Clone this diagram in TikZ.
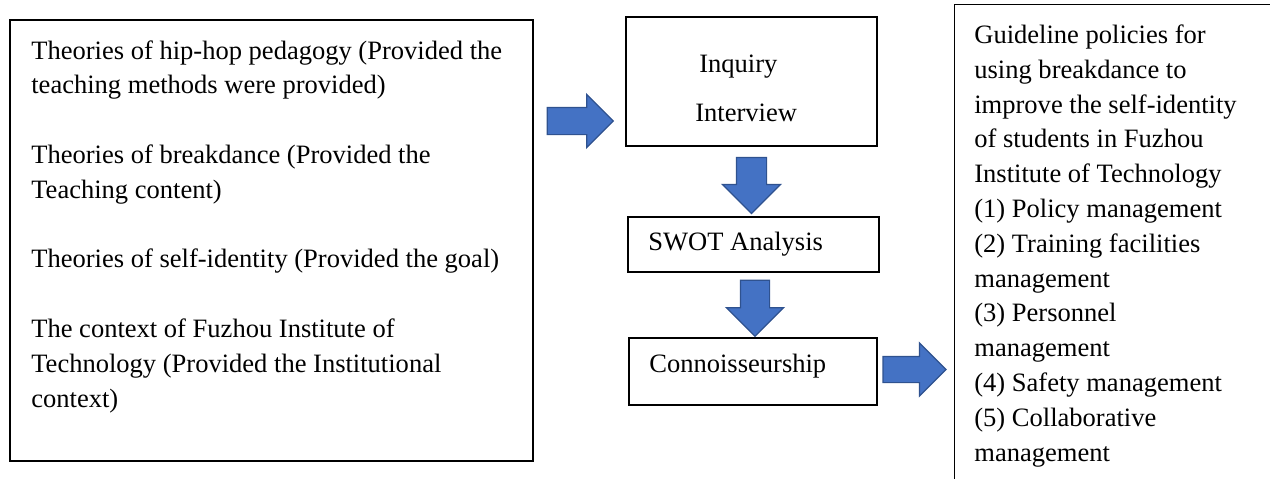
\documentclass[tikz,border=0pt]{standalone}
\usepackage{fontspec}
\setmainfont{Liberation Serif}
\usetikzlibrary{shapes.arrows}

\definecolor{arrowfill}{HTML}{4472C4}
\definecolor{arrowedge}{HTML}{2F528F}

\tikzset{
	box/.style={draw, line width=0.7pt, inner sep=0pt},
	txt/.style={anchor=base west, align=left, inner sep=0pt, font=\fontsize{15.1pt}{19.8pt}\selectfont},
	blockarrow/.style={single arrow, draw=arrowedge, fill=arrowfill, line width=0.7pt, inner sep=0pt}
}

\begin{document}
\begin{tikzpicture}[x=0.02cm, y=-0.02cm]
				\useasboundingbox (0,0) rectangle (1270,478);
				\clip (0,0) rectangle (1270,478);
				% Boxes
				\node[box, minimum width=10.46cm, minimum height=8.82cm] (theories) at (271.5,240.5) {};
				\node[box, minimum width=5.02cm, minimum height=2.58cm] (inquiry) at (751.5,81.5) {};
				\node[box, minimum width=5.02cm, minimum height=1.10cm] (swot) at (753.5,244.5) {};
				\node[box, minimum width=4.96cm, minimum height=1.34cm] (connoisseur) at (753,371.5) {};
				\node[box, anchor=north west, minimum width=7cm, minimum height=10cm] (guideline) at (954,4) {};
				% Texts (placed by the baseline of their last line)
				\node[txt] (theoriestext) at (31,407) {Theories of hip-hop pedagogy (Provided the\\teaching methods were provided)\\[19.8pt]Theories of breakdance (Provided the\\Teaching content)\\[19.8pt]Theories of self-identity (Provided the goal)\\[19.8pt]The context of Fuzhou Institute of\\Technology (Provided the Institutional\\context)};
				\node[txt] (inquirytext) at (695,121) {\hspace{0.08cm}Inquiry\\[8pt]Interview};
				\node[txt] (swottext) at (648,250) {SWOT Analysis};
				\node[txt] (connoisseurtext) at (649,372) {Connoisseurship};
				\node[txt] (guidelinetext) at (974,461) {Guideline policies for\\using breakdance to\\improve the self-identity\\of students in Fuzhou\\Institute of Technology\\(1) Policy management\\(2) Training facilities\\management\\(3) Personnel\\management\\(4) Safety management\\(5) Collaborative\\management};
				% Arrows
				\node[blockarrow, minimum height=1.32cm, inner ysep=0.26cm, single arrow head extend=0.26cm] (toinquiry) at (573.5,121) {};
				\node[blockarrow, rotate=-90, minimum height=1.12cm, inner ysep=0.29cm, single arrow head extend=0.28cm] (toswot) at (751.5,178) {};
				\node[blockarrow, rotate=-90, minimum height=1.12cm, inner ysep=0.28cm, single arrow head extend=0.28cm] (toconnoisseur) at (755,301) {};
				\node[blockarrow, minimum height=1.26cm, inner ysep=0.25cm, single arrow head extend=0.27cm] (toguideline) at (908,369.5) {};
			\end{tikzpicture}
\end{document}
